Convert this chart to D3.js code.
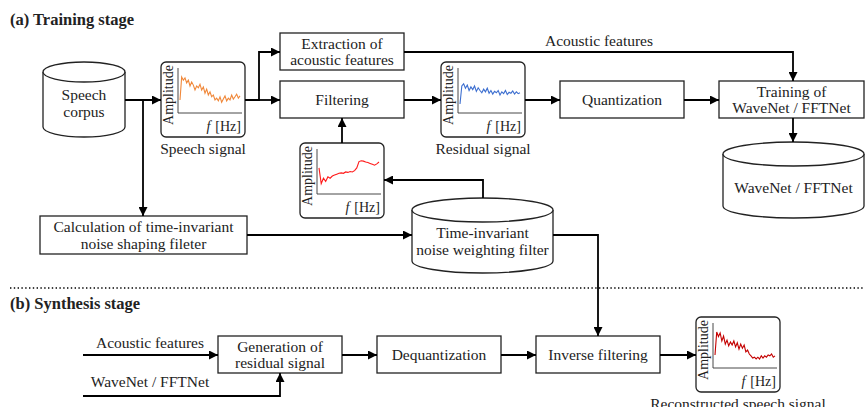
<html>
<head>
<meta charset="utf-8">
<script src="https://d3js.org/d3.v7.min.js"></script>
<style>
  body { margin: 0; background: white; }
  text { font-family: "Liberation Serif", "Times New Roman", serif; fill: #222; }
</style>
</head>
<body>
<script>
// amplitude spectra shown in the small plots (0..1)
var speechSpec = [0.29, 0.8, 0.73, 0.78, 0.67, 0.73, 0.6, 0.69, 0.62, 0.51, 0.6, 0.56, 0.64, 0.51, 0.58, 0.44, 0.53, 0.4, 0.47, 0.36, 0.4, 0.29, 0.33, 0.27, 0.36, 0.24, 0.31, 0.38, 0.27, 0.33, 0.29, 0.4, 0.31, 0.36, 0.42, 0.33, 0.38];
var residualSpec = [0.2, 0.6, 0.65, 0.55, 0.62, 0.5, 0.58, 0.52, 0.6, 0.48, 0.56, 0.5, 0.45, 0.53, 0.47, 0.55, 0.44, 0.5, 0.42, 0.48, 0.45, 0.5, 0.4, 0.47, 0.43, 0.5, 0.41, 0.46, 0.44, 0.49, 0.42, 0.47, 0.43, 0.45];
var filterSpec = [0.58, 0.23, 0.35, 0.28, 0.38, 0.35, 0.4, 0.42, 0.44, 0.46, 0.47, 0.46, 0.49, 0.48, 0.5, 0.49, 0.52, 0.58, 0.72, 0.74, 0.73, 0.71, 0.7, 0.68, 0.66, 0.64, 0.67, 0.71];
var reconSpec = [0.29, 0.8, 0.7, 0.78, 0.6, 0.71, 0.53, 0.62, 0.49, 0.58, 0.51, 0.6, 0.47, 0.56, 0.42, 0.53, 0.44, 0.51, 0.36, 0.4, 0.31, 0.27, 0.22, 0.24, 0.2, 0.24, 0.2, 0.27, 0.22, 0.27, 0.24, 0.29, 0.27, 0.31, 0.24, 0.27];

var stageTitles = ["(a) Training stage", "(b) Synthesis stage"];
var boxLabels = {
  extract: ["Extraction of", "acoustic features"],
  filter: ["Filtering"],
  quant: ["Quantization"],
  train: ["Training of", "WaveNet / FFTNet"],
  calc: ["Calculation of time-invariant", "noise shaping fileter"],
  gen: ["Generation of", "residual signal"],
  deq: ["Dequantization"],
  inv: ["Inverse filtering"]
};
var dbLabels = {
  corpus: ["Speech", "corpus"],
  wavenet: ["WaveNet / FFTNet"],
  tinv: ["Time-invariant", "noise weighting filter"]
};
var plotLabels = ["Speech signal", "Residual signal", "", "Reconstructed speech signal"];
var edgeLabels = ["Acoustic features", "Acoustic features", "WaveNet / FFTNet"];

var width = 865, height = 407;
var svg = d3.select("body").append("svg")
  .attr("width", width)
  .attr("height", height);

svg.append("defs").append("marker")
  .attr("id", "arr")
  .attr("viewBox", "0 0 10 10")
  .attr("refX", 10).attr("refY", 5)
  .attr("markerWidth", 5).attr("markerHeight", 5)
  .attr("markerUnits", "strokeWidth")
  .attr("orient", "auto")
  .append("path").attr("d", "M0,0 L10,5 L0,10 z").attr("fill", "#000");

// titles + separator
svg.append("text").attr("x", 10).attr("y", 25).attr("font-weight", "bold").attr("font-size", 16.5).text(stageTitles[0]);
svg.append("text").attr("x", 10).attr("y", 309).attr("font-weight", "bold").attr("font-size", 16.5).text(stageTitles[1]);
svg.append("line").attr("x1", 10).attr("x2", 865).attr("y1", 288).attr("y2", 288)
  .attr("stroke", "#000").attr("stroke-width", 1.4).attr("stroke-dasharray", "1.4,2.4");

// boxes
var boxes = [
  {id: "extract", x: 280, y: 33, w: 124, h: 37},
  {id: "filter", x: 280, y: 81, w: 124, h: 37},
  {id: "quant", x: 560, y: 81, w: 124, h: 37},
  {id: "train", x: 719, y: 81, w: 145, h: 37},
  {id: "calc", x: 40, y: 216, w: 207, h: 38},
  {id: "gen", x: 218, y: 336, w: 124, h: 37},
  {id: "deq", x: 377, y: 336, w: 124, h: 37},
  {id: "inv", x: 536, y: 336, w: 124, h: 37}
];

function writeLines(g, lines, cx, cy) {
  var start = lines.length == 1 ? cy + 5 : cy - 3;
  lines.forEach(function(t, i) {
    g.append("text").attr("x", cx).attr("y", start + i * 16.5)
      .attr("text-anchor", "middle").attr("font-size", 15.5).text(t);
  });
}

boxes.forEach(function(b) {
  var g = svg.append("g");
  g.append("rect").attr("x", b.x).attr("y", b.y).attr("width", b.w).attr("height", b.h)
    .attr("fill", "white").attr("stroke", "#222").attr("stroke-width", 1.3);
  writeLines(g, boxLabels[b.id], b.x + b.w / 2, b.y + b.h / 2);
});

// databases (cylinders)
var dbs = [
  {id: "corpus", x: 43, w: 82, top: 72, bot: 127, ry: 10, ty: 103},
  {id: "wavenet", x: 723, w: 141, top: 154, bot: 206, ry: 12, ty: 193},
  {id: "tinv", x: 412, w: 141, top: 210, bot: 261, ry: 12, ty: 241}
];
dbs.forEach(function(c) {
  var rx = c.w / 2, cx = c.x + rx;
  var g = svg.append("g");
  g.append("path")
    .attr("d", "M" + c.x + "," + c.top + " L" + c.x + "," + c.bot +
      " A" + rx + "," + c.ry + " 0 0 0 " + (c.x + c.w) + "," + c.bot +
      " L" + (c.x + c.w) + "," + c.top)
    .attr("fill", "white").attr("stroke", "#222").attr("stroke-width", 1.3);
  g.append("ellipse").attr("cx", cx).attr("cy", c.top).attr("rx", rx).attr("ry", c.ry)
    .attr("fill", "white").attr("stroke", "#222").attr("stroke-width", 1.3);
  var lines = dbLabels[c.id];
  lines.forEach(function(t, i) {
    g.append("text").attr("x", cx).attr("y", c.ty + i * 16.5 - (lines.length - 1) * 3)
      .attr("text-anchor", "middle").attr("font-size", 15.5).text(t);
  });
});

// small spectrum plots
var plots = [
  {x: 161, y: 62, data: speechSpec, color: "#f0883a"},
  {x: 441, y: 62, data: residualSpec, color: "#3d6fd0"},
  {x: 300, y: 143, data: filterSpec, color: "#ff1a1a"},
  {x: 696, y: 317, data: reconSpec, color: "#c40000"}
];
plots.forEach(function(p, k) {
  var g = svg.append("g");
  g.append("rect").attr("x", p.x).attr("y", p.y).attr("width", 84).attr("height", 75)
    .attr("rx", 5).attr("fill", "white").attr("stroke", "#222").attr("stroke-width", 1.3);
  var xs = d3.scaleLinear().domain([0, p.data.length - 1]).range([p.x + 19, p.x + 79]);
  var ys = d3.scaleLinear().domain([0, 1]).range([p.y + 51, p.y + 6]);
  g.append("path")
    .attr("d", "M" + (p.x + 17) + "," + (p.y + 6) + " L" + (p.x + 17) + "," + (p.y + 51) + " L" + (p.x + 81) + "," + (p.y + 51))
    .attr("fill", "none").attr("stroke", "#333").attr("stroke-width", 0.9);
  g.append("path").datum(p.data)
    .attr("d", d3.line().x(function(d, i) { return xs(i); }).y(function(d) { return ys(d); }))
    .attr("fill", "none").attr("stroke", p.color).attr("stroke-width", 1.1);
  g.append("text").attr("transform", "translate(" + (p.x + 12) + "," + (p.y + 33) + ") rotate(-90)")
    .attr("text-anchor", "middle").attr("font-size", 14).text("Amplitude");
  var ft = g.append("text").attr("x", p.x + 80).attr("y", p.y + 69)
    .attr("text-anchor", "end").attr("font-size", 14);
  ft.append("tspan").attr("font-style", "italic").text("f");
  ft.append("tspan").text("[Hz]").attr("dx", 5);
  if (plotLabels[k]) {
    svg.append("text").attr("x", p.x + 42).attr("y", p.y + 92)
      .attr("text-anchor", "middle").attr("font-size", 15.5).text(plotLabels[k]);
  }
});

// connections
var edges = [
  {pts: [[125, 100], [161, 100]], arrow: true},
  {pts: [[143, 100], [143, 216]], arrow: true},
  {pts: [[245, 100], [259, 100], [259, 52], [280, 52]], arrow: true},
  {pts: [[259, 100], [280, 100]], arrow: true},
  {pts: [[404, 100], [441, 100]], arrow: true},
  {pts: [[525, 100], [560, 100]], arrow: true},
  {pts: [[684, 100], [719, 100]], arrow: true},
  {pts: [[404, 52], [793, 52], [793, 81]], arrow: true},
  {pts: [[793, 118], [793, 142]], arrow: true},
  {pts: [[342, 143], [342, 118]], arrow: true},
  {pts: [[483, 198], [483, 180], [384, 180]], arrow: true},
  {pts: [[247, 235], [412, 235]], arrow: true},
  {pts: [[553, 235], [598, 235], [598, 336]], arrow: true},
  {pts: [[83, 355], [218, 355]], arrow: true},
  {pts: [[83, 396], [280, 396], [280, 373]], arrow: true},
  {pts: [[342, 355], [377, 355]], arrow: true},
  {pts: [[501, 355], [536, 355]], arrow: true},
  {pts: [[660, 355], [696, 355]], arrow: true}
];
var line = d3.line();
edges.forEach(function(e) {
  svg.append("path").attr("d", line(e.pts))
    .attr("fill", "none").attr("stroke", "#000").attr("stroke-width", 1.8)
    .attr("marker-end", e.arrow ? "url(#arr)" : null);
});

svg.append("text").attr("x", 599).attr("y", 46).attr("text-anchor", "middle").attr("font-size", 15.5).text(edgeLabels[0]);
svg.append("text").attr("x", 150).attr("y", 348).attr("text-anchor", "middle").attr("font-size", 15.5).text(edgeLabels[1]);
svg.append("text").attr("x", 150).attr("y", 387).attr("text-anchor", "middle").attr("font-size", 15.5).text(edgeLabels[2]);
</script>
</body>
</html>
